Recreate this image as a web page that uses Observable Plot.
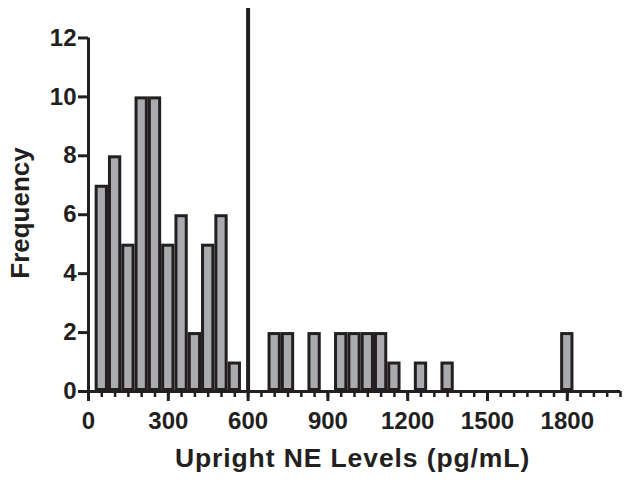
<!DOCTYPE html>
<html>
<head>
<meta charset="utf-8">
<script src="https://cdn.jsdelivr.net/npm/d3@7"></script>
<script src="https://cdn.jsdelivr.net/npm/@observablehq/plot@0.6"></script>
<style>
  html, body { margin: 0; padding: 0; background: #fff; }
</style>
</head>
<body>
<div id="chart"></div>
<script>
// Bin centers (pg/mL) and their frequencies (bins 50 wide)
const binCenters = [50, 100, 150, 200, 250, 300, 350, 400, 450, 500, 550, 700, 750, 850, 950, 1000, 1050, 1100, 1150, 1250, 1350, 1800];
const counts     = [7, 8, 5, 10, 10, 5, 6, 2, 5, 6, 1, 2, 2, 2, 2, 2, 2, 2, 1, 1, 1, 2];
const binWidth = 50;
const xTicks = [0, 300, 600, 900, 1200, 1500, 1800];
const xMinorTicks = d3.range(0, 2001, 50);
const yTicks = [0, 2, 4, 6, 8, 10, 12];
const cutoff = [600];
const xTitle = ["Upright NE Levels (pg/mL)"];
const yTitle = ["Frequency"];

const data = binCenters.map((c, i) => ({center: c, count: counts[i]}));
const ink = "#231f20";

const chart = Plot.plot({
  width: 629,
  height: 484,
  marginLeft: 88,
  marginRight: 9,
  marginTop: 8,
  marginBottom: 93,
  x: {domain: [0, 2000]},
  y: {domain: [0, 13]},
  style: {fontFamily: "'Liberation Sans', Arial, sans-serif", fontWeight: "bold", fontSize: "24px", color: ink, background: "#fff", overflow: "visible"},
  marks: [
    Plot.rectY(data, {x1: d => d.center - binWidth / 2, x2: d => d.center + binWidth / 2, y: "count",
      fill: "#aaabae", stroke: ink, strokeWidth: 3, inset: 1.5}),
    Plot.axisX({ticks: xMinorTicks, tickSize: 6, tickFormat: () => "", strokeWidth: 2.5, label: null}),
    Plot.axisX({ticks: xTicks, tickSize: 10, tickPadding: 10, tickFormat: d3.format("d"), fontSize: 24, strokeWidth: 3, label: null}),
    Plot.axisY({ticks: yTicks, tickSize: 10, tickPadding: 2, tickFormat: d3.format("d"), fontSize: 24, strokeWidth: 3, label: null}),
    Plot.ruleY([0], {x1: 0, x2: 2000, stroke: ink, strokeWidth: 3}),
    Plot.ruleX([0], {y1: 0, y2: 12, stroke: ink, strokeWidth: 3}),
    Plot.ruleX(cutoff, {y1: 0, y2: 13, stroke: ink, strokeWidth: 4}),
    Plot.text(yTitle, {text: d => d, frameAnchor: "left", textAnchor: "middle", rotate: -90, dx: -68, dy: 13, fontSize: 26, lineAnchor: "middle", fill: ink}),
    Plot.text(xTitle, {text: d => d, frameAnchor: "bottom", textAnchor: "middle", dx: -2, dy: 67, fontSize: 26.5, lineAnchor: "middle", fill: ink})
  ]
});
chart.querySelectorAll("text").forEach(t => {
  if (t.textContent === xTitle[0]) t.style.letterSpacing = "0.9px";
});
document.getElementById("chart").appendChild(chart);
</script>
</body>
</html>
